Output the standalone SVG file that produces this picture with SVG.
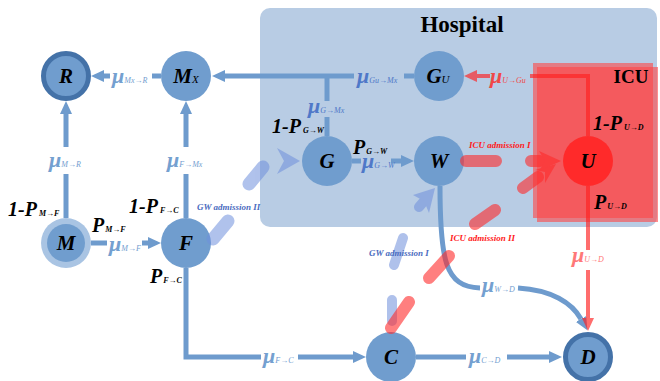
<svg xmlns="http://www.w3.org/2000/svg" width="660" height="381" viewBox="0 0 660 381">
<style>
.ln{fill:none;stroke:#6e9bcd;stroke-width:5}
.lnr{fill:none;stroke:#ff2020;stroke-width:4;opacity:.65}
.nd{fill:#709dce}
.nl{font-family:"Liberation Serif",serif;font-weight:bold;font-style:italic;font-size:21px;text-anchor:middle;fill:#000}
.nl .s{font-size:11px}
.mu{font-family:"Liberation Serif",serif;font-style:italic;font-weight:bold;font-size:22px;fill:#74a0d0}
.mu.in{fill:#4f78c8}
.mu.r{fill:#f04848}
.mu.rl{fill:#ff7878}
.s{font-size:8px;font-weight:normal}
.p{font-family:"Liberation Serif",serif;font-weight:bold;font-style:italic;font-size:20px;fill:#000}
.p .s{font-weight:bold}
.adm{font-family:"Liberation Serif",serif;font-weight:bold;font-style:italic;font-size:9px}
.ttl{font-family:"Liberation Serif",serif;font-weight:bold;fill:#000}
</style>
<defs>
<marker id="ab" markerUnits="userSpaceOnUse" markerWidth="13" markerHeight="12" viewBox="0 0 13 12" refX="0" refY="6" orient="auto"><path d="M0,0 L13,6 L0,12 z" fill="#6e9bcd"/></marker>
<marker id="ar" markerUnits="userSpaceOnUse" markerWidth="13" markerHeight="12" viewBox="0 0 13 12" refX="0" refY="6" orient="auto"><path d="M0,0 L13,6 L0,12 z" fill="#ff2020"/></marker>
</defs>
<g id="hospital"><rect x="260" y="8" width="397" height="219" rx="10" fill="#b8cce4"/>
<text class="ttl" x="462" y="32" font-size="23" text-anchor="middle">Hospital</text></g>
<g id="icu"><rect x="533" y="63" width="120" height="155" fill="#ff4444" opacity=".6"/><rect x="537" y="67" width="121" height="155" fill="#ff4444" opacity=".6"/>
<text class="ttl" x="631" y="83" font-size="19" text-anchor="middle">ICU</text></g>
<g id="connectors">
<path class="ln" d="M161,76 H152 M110,76 H104" marker-end="url(#ab)"/>
<path class="ln" d="M414,76 H404 M354,76 H225" marker-end="url(#ab)"/>
<path class="ln" d="M327,136 V117 M327,101 V76"/>
<path class="ln" d="M186,218 V174 M186,147 V114" marker-end="url(#ab)"/>
<path class="ln" d="M66,218 V174 M66,147 V114" marker-end="url(#ab)"/>
<path class="ln" d="M91,243 H107 M142,243 H148" marker-end="url(#ab)"/>
<path class="ln" d="M352,161 H361 M391,161 H401" marker-end="url(#ab)"/>
<path class="ln" d="M186,268 V357 H261 M298,357 H353" marker-end="url(#ab)"/>
<path class="ln" d="M416,357 H466 M507,357 H549" marker-end="url(#ab)"/>
<path class="ln" d="M440,186 C440,260 445,287 480,288 M518,288 C552,290 572,303 581,319" marker-end="url(#ab)" stroke-width="4.5"/>
<path class="lnr" d="M588,136 V76 H530 M490,76 H477" marker-end="url(#ar)"/>
<path class="lnr" d="M588,186 V250 M588,270 V318" marker-end="url(#ar)"/>
<text class="mu" x="112" y="83">μ<tspan class="s">Mx→R</tspan></text>
<text class="mu" x="49" y="167">μ<tspan class="s">M→R</tspan></text>
<text class="mu" x="167" y="167">μ<tspan class="s">F→Mx</tspan></text>
<text class="mu" x="109" y="251">μ<tspan class="s">M→F</tspan></text>
<text class="mu" x="263" y="363">μ<tspan class="s">F→C</tspan></text>
<text class="mu" x="469" y="363">μ<tspan class="s">C→D</tspan></text>
<text class="mu" x="482" y="292">μ<tspan class="s">W→D</tspan></text>
<text class="mu in" x="357" y="83">μ<tspan class="s">Gu→Mx</tspan></text>
<text class="mu in" x="308" y="113">μ<tspan class="s">G→Mx</tspan></text>
<text class="mu in" x="362" y="168">μ<tspan class="s">G→W</tspan></text>
<text class="mu r" x="490" y="83">μ<tspan class="s">U→Gu</tspan></text>
<text class="mu rl" x="572" y="262">μ<tspan class="s">U→D</tspan></text>
</g>
<g id="node-R"><circle cx="66" cy="76" r="22.5" class="nd" stroke="#4472a8" stroke-width="5"/><text class="nl" x="66" y="83">R</text></g>
<g id="node-Mx"><circle cx="186" cy="76" r="25" class="nd"/><text class="nl" x="186" y="83">M<tspan class="s">X</tspan></text></g>
<g id="node-M"><circle cx="66" cy="243" r="25" fill="#a9c4e3"/><circle cx="66" cy="243" r="19" class="nd"/><text class="nl" x="66" y="250">M</text></g>
<g id="node-F"><circle cx="186" cy="243" r="25" class="nd"/><text class="nl" x="186" y="250">F</text></g>
<g id="node-G"><circle cx="327" cy="161" r="25" class="nd"/><text class="nl" x="327" y="168">G</text></g>
<g id="node-W"><circle cx="439" cy="161" r="25" class="nd"/><text class="nl" x="439" y="168">W</text></g>
<g id="node-Gu"><circle cx="439" cy="76" r="25" class="nd"/><text class="nl" x="438" y="83">G<tspan class="s">U</tspan></text></g>
<g id="node-U"><circle cx="588" cy="161" r="25" fill="#ff2a2a"/><text class="nl" x="588" y="168">U</text></g>
<g id="node-C"><circle cx="391" cy="357" r="25" class="nd"/><text class="nl" x="391" y="364">C</text></g>
<g id="node-D"><circle cx="588" cy="357" r="22.5" class="nd" stroke="#4472a8" stroke-width="5"/><text class="nl" x="588" y="364">D</text></g>
<g id="admissions">
<g opacity=".55" fill="#6f8fdc">
<path d="M213,239 L228,221 M249,184 L263,167" fill="none" stroke="#6f8fdc" stroke-width="13" stroke-linecap="round"/>
<polygon points="300,161 277,148 284,161 277,174"/>
<path d="M392,300 V321 M394,265 L403,238 M419,207 L425,200" fill="none" stroke="#6f8fdc" stroke-width="10" stroke-linecap="round"/>
<polygon points="435,188 413,195 424,201 429,213"/>
</g>
<g opacity=".6" fill="#ff2a2a">
<path d="M391,328 L409,302 M429,278 L449,256 M475,224 L495,210 M523,188 L538,177" fill="none" stroke="#ff2a2a" stroke-width="12" stroke-linecap="round"/>
<polygon points="556,164 535,170 545,172 545,183"/>
<path d="M466,161 H496 M531,161 H540" fill="none" stroke="#ff2a2a" stroke-width="12" stroke-linecap="round"/>
<polygon points="561,161 539,151 545,161 539,171"/>
</g>
<text class="adm" x="197" y="210" fill="#4a6cc0">GW admission II</text>
<text class="adm" x="369" y="256" fill="#4a6cc0">GW admission I</text>
<text class="adm" x="450" y="241" fill="#ff1a1a">ICU admission II</text>
<text class="adm" x="469" y="148" fill="#ff1a1a">ICU admission I</text>
</g>
<g id="probabilities">
<text class="p" x="8" y="216">1-P<tspan class="s" dx="2">M→F</tspan></text>
<text class="p" x="92" y="232">P<tspan class="s" dx="1">M→F</tspan></text>
<text class="p" x="129" y="213">1-P<tspan class="s" dx="2">F→C</tspan></text>
<text class="p" x="150" y="283">P<tspan class="s" dx="1">F→C</tspan></text>
<text class="p" x="272" y="133">1-P<tspan class="s" dx="2">G→W</tspan></text>
<text class="p" x="353" y="154">P<tspan class="s" dx="1">G→W</tspan></text>
<text class="p" x="593" y="130">1-P<tspan class="s" dx="2">U→D</tspan></text>
<text class="p" x="594" y="209">P<tspan class="s" dx="1">U→D</tspan></text>
</g>
</svg>
